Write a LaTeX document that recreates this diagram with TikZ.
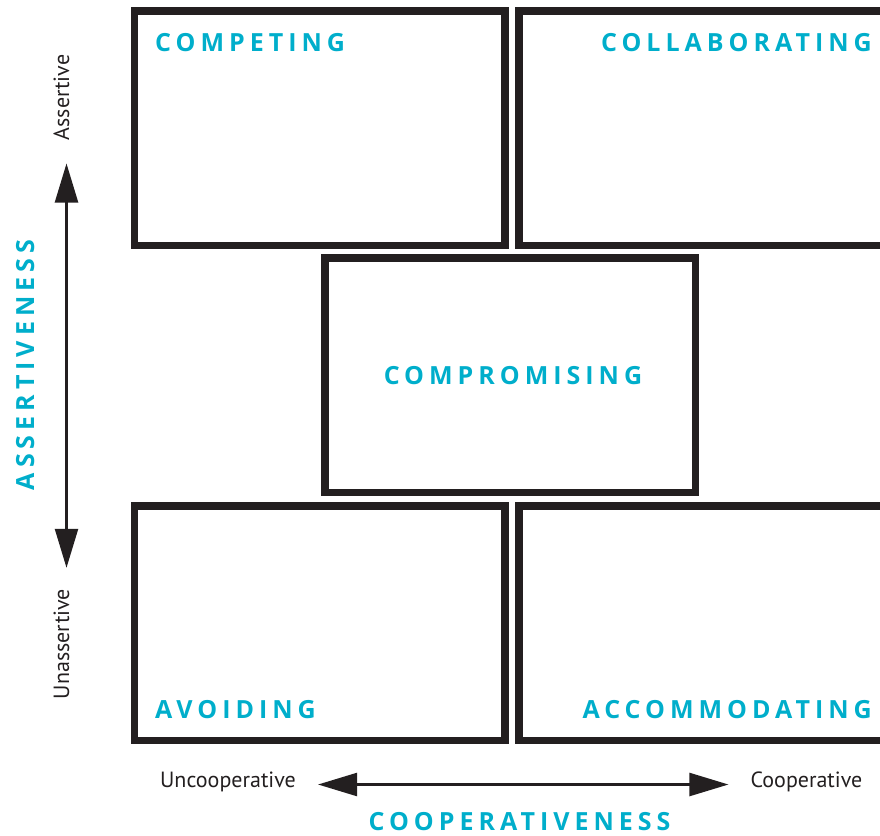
\documentclass[tikz,border=0pt]{standalone}
\usepackage{fontspec}
\setmainfont{PT Sans}
\newfontfamily\modefont[LetterSpace=20]{Open Sans}
\usepackage{xcolor}
\usetikzlibrary{arrows.meta,positioning}
\definecolor{modecyan}{HTML}{00AECB}
\definecolor{boxgray}{HTML}{231F20}
\tikzset{
	modebox/.style={
			draw=boxgray, line width=7.5pt, inner sep=0pt,
			minimum width=370.5pt, minimum height=234.5pt
		},
	modelabel/.style={
			text=modecyan, inner sep=0pt,
			font=\modefont\bfseries\fontsize{25}{25}\selectfont
		},
	endlabel/.style={
			text=boxgray, inner sep=0pt,
			font=\fontsize{22}{22}\selectfont
		},
	axisarrow/.style={
			draw=boxgray, line width=2.4pt,
			{Triangle[length=39pt,width=23pt]}-{Triangle[length=39pt,width=23pt]}
		}
}

\begin{document}
\begin{tikzpicture}[x=1pt,y=-1pt]
			\useasboundingbox (0,0) rectangle (880,835);
			\clip (0,0) rectangle (880,835);

			% Mode boxes
			\node [modebox] (competing) at (319.75,128.25) {};
			\node [modebox] (collaborating) at (704.25,128.25) {};
			\node [modebox] (compromising) at (510,375.25) {};
			\node [modebox] (avoiding) at (319.75,623) {};
			\node [modebox] (accommodating) at (704.25,623) {};

			% Mode names
			\node [modelabel, anchor=north west] at (155,33) {COMPETING};
			\node [modelabel, anchor=north east] at (872,33) {COLLABORATING};
			\node [modelabel] at ([xshift=3pt]compromising.center) {COMPROMISING};
			\node [modelabel, anchor=south west] at (155,719) {AVOIDING};
			\node [modelabel, anchor=south east] at (872,719) {ACCOMMODATING};

			% Assertiveness axis
			\node [endlabel, rotate=90, anchor=base] (assertive) at (69,97.5) {Assertive};
			\node [endlabel, rotate=90, anchor=base] (unassertive) at (69,644) {Unassertive};
			\draw [axisarrow, shorten <=23pt, shorten >=21pt] (assertive.mid west) -- (unassertive.mid east);
			\node [modelabel, rotate=90, anchor=base] (assertiveness) at (34,365) {ASSERTIVENESS};

			% Cooperativeness axis
			\node [endlabel, anchor=base] (uncooperative) at (228,787) {Uncooperative};
			\node [endlabel, anchor=base] (cooperative) at (806.5,787) {Cooperative};
			\draw [axisarrow, shorten <=22pt, shorten >=22pt] (uncooperative.mid east) -- (cooperative.mid west);
			\node [modelabel, anchor=base] (cooperativeness) at (519.5,830) {COOPERATIVENESS};
		\end{tikzpicture}
\end{document}
